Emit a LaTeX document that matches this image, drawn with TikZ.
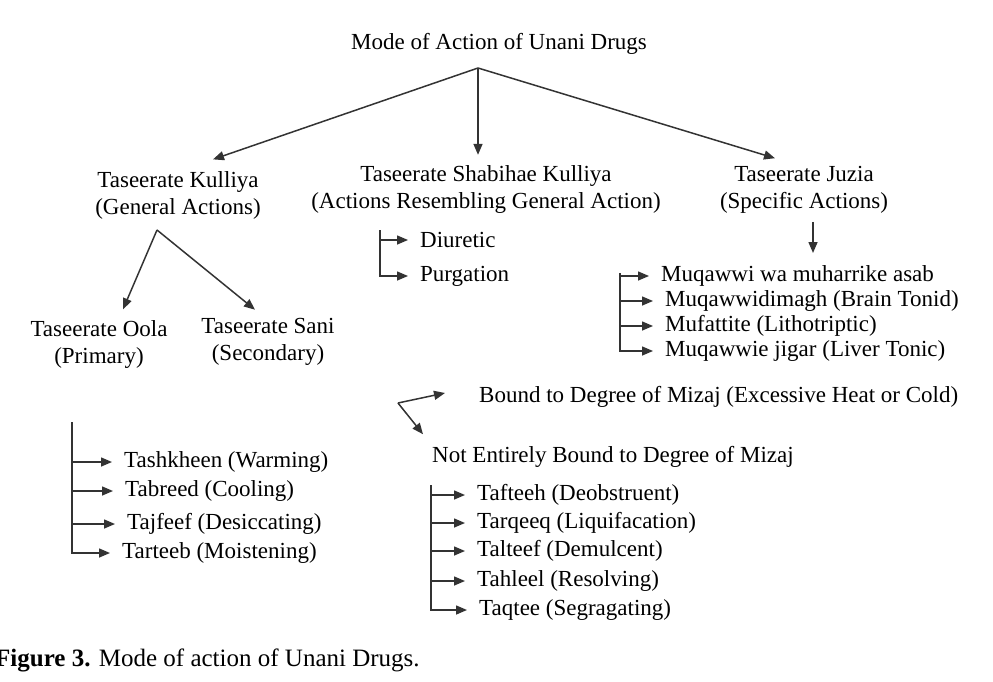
\documentclass[tikz,border=0pt]{standalone}
\usepackage{fontspec}
\setmainfont{Liberation Serif}
\usetikzlibrary{arrows.meta}

\tikzset{
  lbl/.style={font=\fontsize{23}{27}\selectfont, inner sep=0pt, align=center},
  itm/.style={font=\fontsize{23}{27}\selectfont, anchor=west, inner xsep=12pt, inner ysep=0pt},
  arr/.style={draw=black!80, line width=1.5pt, -{Triangle[length=11pt,width=9pt]}},
}

\begin{document}
\begin{tikzpicture}[x=1pt, y=-1pt]
  \useasboundingbox (0,0) rectangle (993,682);

  % --- root and the three branches ---
  \node[lbl] (root) at (499,44) {Mode of Action of Unani Drugs};
  \coordinate (rt) at (478,68);
  \node[lbl] (kul) at (178,195.5) {Taseerate Kulliya\\(General Actions)};
  \node[lbl] (shb) at (486,190) {Taseerate Shabihae Kulliya\\(Actions Resembling General Action)};
  \node[lbl] (juz) at (804,190) {Taseerate Juzia\\(Specific Actions)};
  \draw[arr] (rt) -- ([xshift=35pt,yshift=12pt]kul.north);
  \draw[arr] (rt) -- ([xshift=-8pt,yshift=11pt]shb.north);
  \draw[arr] (rt) -- ([xshift=-29pt,yshift=8pt]juz.north);

  % --- general actions: primary and secondary ---
  \node[lbl] (ool) at (99,344.5) {Taseerate Oola\\(Primary)};
  \node[lbl] (san) at (268,341.5) {Taseerate Sani\\(Secondary)};
  \coordinate (kap) at (157,230);
  \draw[arr] (kap) -- ([xshift=24pt,yshift=11pt]ool.north);
  \draw[arr] (kap) -- ([xshift=-13pt,yshift=8pt]san.north);

  % --- actions resembling general action ---
  \coordinate (stp) at (380,230);
  \node[itm] (diu) at (408,240) {Diuretic};
  \node[itm] (pur) at (408,276) {Purgation};
  \draw[arr] (stp |- diu.west) -- (diu.west);
  \draw[arr] (stp) |- (pur.west);

  % --- specific actions ---
  \coordinate (jdn) at (813,253);
  \draw[arr] ([xshift=9pt,yshift=-8pt]juz.south) -- (jdn);
  \coordinate (jtp) at (620,273);
  \node[itm] (mq1) at (649,276) {Muqawwi wa muharrike asab};
  \node[itm] (mq2) at (653,301) {Muqawwidimagh (Brain Tonid)};
  \node[itm] (muf) at (653,326) {Mufattite (Lithotriptic)};
  \node[itm] (mq3) at (653,351) {Muqawwie jigar (Liver Tonic)};
  \foreach \n in {mq1,mq2,muf}
    \draw[arr] (jtp |- \n.west) -- (\n.west);
  \draw[arr] (jtp) |- (mq3.west);

  % --- degree of mizaj ---
  \coordinate (mz) at (398,403);
  \node[lbl, anchor=west] (bnd) at (479,397) {Bound to Degree of Mizaj (Excessive Heat or Cold)};
  \node[lbl, anchor=west] (nbd) at (432,457) {Not Entirely Bound to Degree of Mizaj};
  \draw[arr] (mz) -- ([xshift=-34pt,yshift=4pt]bnd.west);
  \draw[arr] (mz) -- ([xshift=-9pt,yshift=12pt]nbd.north west);

  % --- primary actions ---
  \coordinate (otp) at (72,422);
  \node[itm] (tsh) at (112,462) {Tashkheen (Warming)};
  \node[itm] (tbr) at (113,491) {Tabreed (Cooling)};
  \node[itm] (tjf) at (115,524) {Tajfeef (Desiccating)};
  \node[itm] (trt) at (110,553) {Tarteeb (Moistening)};
  \foreach \n in {tsh,tbr,tjf}
    \draw[arr] (otp |- \n.west) -- (\n.west);
  \draw[arr] (otp) |- (trt.west);

  % --- not entirely bound ---
  \coordinate (ntp) at (431,485);
  \node[itm] (tft) at (465,495) {Tafteeh (Deobstruent)};
  \node[itm] (tqq) at (465,523) {Tarqeeq (Liquifacation)};
  \node[itm] (tlt) at (465,551) {Talteef (Demulcent)};
  \node[itm] (thl) at (465,581) {Tahleel (Resolving)};
  \node[itm] (tqt) at (467,610) {Taqtee (Segragating)};
  \foreach \n in {tft,tqq,tlt,thl}
    \draw[arr] (ntp |- \n.west) -- (\n.west);
  \draw[arr] (ntp) |- (tqt.west);

  % --- caption ---
  \node[anchor=base west, inner sep=0pt, font=\fontsize{25}{30}\selectfont] (cap) at (-5,666)
    {\textbf{Figure 3.} Mode of action of Unani Drugs.};
\end{tikzpicture}
\end{document}
